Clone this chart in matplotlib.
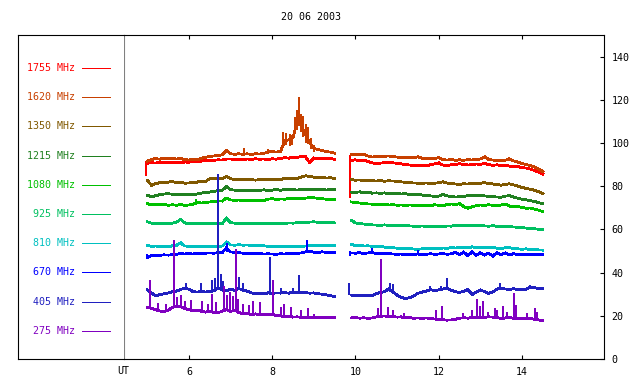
import numpy as np
import matplotlib
matplotlib.use("Agg")
import matplotlib.pyplot as plt

title = "20 06 2003"
freqs = ["1755 MHz", "1620 MHz", "1350 MHz", "1215 MHz", "1080 MHz",
         "925 MHz", "810 MHz", "670 MHz", "405 MHz", "275 MHz"]
colors = ["#ff0000", "#c84000", "#805800", "#208020", "#00c000",
          "#00c060", "#00c0c0", "#0000ff", "#2020c0", "#8000c0"]
xticks = [6, 8, 10, 12, 14]
yticks = [0, 20, 40, 60, 80, 100, 120, 140]

# sampling times (UT hours) of the two observing segments
t_a = np.round(np.arange(5.0, 9.55, 0.1), 1)    # 46 samples
t_b = np.round(np.arange(9.9, 14.55, 0.1), 1)   # 47 samples

s1755_a = [90.6, 90.9, 90.7, 91.0, 90.8, 91.1, 90.9, 91.0, 90.8, 91.2,
           91.1, 91.4, 91.3, 91.6, 91.9, 92.1, 92.0, 92.2, 92.1, 92.6,
           92.6, 92.3, 92.5, 92.4, 92.6, 92.4, 92.7, 92.5, 92.6, 92.4,
           92.7, 92.5, 92.9, 93.2, 93.0, 93.5, 93.3, 93.8, 93.6, 91.0,
           93.1, 92.8, 93.0, 92.7, 92.9, 92.4]
s1755_b = [92.0,
           92.2, 91.8, 92.0, 91.5, 90.8, 90.4, 90.7, 90.9, 91.2, 90.8,
           90.6, 90.3, 90.0, 89.8, 89.7, 89.6, 89.8, 89.5, 89.9, 90.3,
           90.6, 89.8, 89.6, 89.9, 90.1, 90.4, 90.1, 89.8, 90.0, 90.3,
           90.1, 90.6, 90.0, 89.7, 89.9, 89.6, 89.8, 89.3, 88.9, 89.1,
           88.6, 88.4, 87.9, 87.3, 86.5, 85.5]
spk1755 = [(4.98, 84.6, 91.5), (9.87, 74.7, 94.3), (12.0, 89.8, 91.5)]

s1620_a = [91.6, 92.4, 92.8, 92.5, 93.0, 92.7, 92.9, 92.6, 92.8, 92.3,
           92.1, 92.5, 92.3, 92.9, 93.4, 93.8, 94.0, 94.3, 94.5, 96.5,
           95.0, 94.8, 95.0, 94.8, 95.0, 94.7, 95.0, 94.9, 95.2, 95.8,
           96.0, 95.8, 96.0, 101.0, 101.5, 102.5, 110.0, 108.0, 104.0, 100.0,
           97.5, 97.0, 96.5, 96.0, 95.8, 95.3]
s1620_b = [94.6,
           94.8, 94.5, 94.7, 94.0, 93.5, 93.7, 93.6, 93.9, 94.0, 93.7,
           93.5, 93.2, 93.4, 93.1, 93.3, 93.6, 93.0, 92.8, 92.6, 92.9,
           93.2, 92.3, 92.1, 92.3, 92.0, 92.2, 92.0, 92.3, 92.1, 92.4,
           92.6, 93.5, 92.4, 92.1, 92.0, 91.9, 92.1, 92.5, 91.7, 91.2,
           90.4, 90.1, 89.5, 88.9, 88.0, 86.8]
spk1620 = [(7.33, 95.0, 97.9), (7.9, 95.0, 97.0), (8.27, 98.5, 105.0),
           (8.33, 99.0, 104.5), (8.42, 98.5, 104.0), (8.47, 99.0, 103.5),
           (8.55, 104.0, 112.0), (8.6, 106.0, 115.5), (8.65, 108.0, 121.2),
           (8.69, 105.0, 113.5), (8.73, 103.0, 112.5), (8.8, 100.0, 109.0),
           (8.85, 99.5, 107.5), (8.93, 97.0, 102.5), (9.0, 96.0, 99.0),
           (13.1, 92.5, 94.5), (13.7, 91.5, 93.5)]

s1350_a = [82.7, 80.4, 81.2, 81.6, 81.8, 81.9, 82.1, 81.7, 81.9, 81.4,
           81.5, 81.7, 81.9, 82.4, 82.2, 83.5, 83.7, 83.6, 83.4, 84.5,
           83.4, 83.2, 83.3, 83.0, 83.1, 83.0, 82.8, 83.1, 82.9, 83.2,
           83.0, 83.3, 83.1, 83.6, 83.5, 83.8, 83.5, 84.3, 84.8, 84.5,
           84.2, 84.0, 84.2, 83.8, 83.9, 83.6]
s1350_b = [83.0,
           82.8, 82.9, 82.6, 82.8, 82.5, 82.4, 82.6, 82.3, 82.5, 82.4,
           82.3, 82.0, 81.8, 81.6, 81.5, 81.4, 81.3, 81.5, 81.2, 81.4,
           81.6, 82.0, 81.5, 81.2, 81.0, 80.9, 81.1, 81.0, 81.3, 81.2,
           81.4, 81.6, 81.3, 81.0, 80.7, 80.5, 80.8, 81.1, 80.6, 80.0,
           79.4, 79.0, 78.6, 78.1, 77.4, 76.5]
spk1350 = []

s1215_a = [75.8, 75.0, 75.6, 76.1, 76.4, 76.5, 76.3, 76.1, 76.3, 76.0,
           76.2, 75.9, 76.4, 76.8, 77.1, 77.3, 77.6, 78.0, 78.1, 79.8,
           78.4, 78.2, 78.0, 78.0, 78.1, 78.0, 78.2, 78.1, 78.3, 78.0,
           78.2, 78.4, 78.1, 78.5, 78.3, 78.4, 78.2, 78.5, 78.4, 78.6,
           78.5, 78.3, 78.5, 78.2, 78.5, 78.4]
s1215_b = [77.3,
           77.1, 77.4, 77.0, 77.2, 76.8, 76.9, 76.7, 76.9, 76.6, 76.8,
           76.6, 76.4, 76.5, 76.2, 76.1, 76.3, 75.9, 75.6, 75.5, 75.3,
           75.4, 76.3, 75.5, 75.2, 75.0, 75.1, 75.3, 75.6, 75.9, 75.7,
           75.8, 75.5, 75.3, 75.1, 75.0, 74.9, 75.4, 75.6, 75.0, 74.4,
           74.0, 73.7, 73.3, 72.9, 72.4, 71.9]
spk1215 = []

s1080_a = [71.9, 71.4, 71.6, 71.3, 71.5, 71.2, 71.4, 71.2, 71.5, 71.1,
           71.3, 71.6, 72.4, 72.2, 72.4, 72.7, 72.9, 73.2, 73.1, 74.5,
           73.6, 73.5, 73.6, 73.4, 73.5, 73.3, 73.5, 73.2, 73.4, 74.0,
           74.2, 73.9, 74.1, 74.0, 74.3, 74.2, 74.4, 74.1, 74.5, 74.7,
           74.6, 74.4, 74.2, 74.0, 73.9, 73.8]
s1080_b = [72.7,
           72.4, 72.2, 72.0, 71.8, 71.7, 71.6, 71.4, 71.6, 71.3, 71.4,
           71.2, 71.3, 71.1, 71.3, 71.2, 71.2, 71.1, 71.3, 71.0, 71.4,
           71.2, 71.0, 71.5, 71.8, 71.6, 71.9, 70.6, 69.8, 70.5, 71.0,
           71.3, 71.1, 71.4, 71.2, 71.0, 71.3, 71.7, 70.8, 70.5, 70.6,
           70.2, 69.8, 69.9, 69.4, 68.9, 68.2]
spk1080 = [(6.18, 71.8, 74.2)]

s925_a = [63.5, 62.9, 62.8, 62.9, 62.7, 62.8, 62.9, 63.3, 64.6, 63.0,
          62.7, 62.6, 62.7, 62.8, 62.6, 62.7, 62.6, 62.7, 62.6, 65.2,
          63.1, 62.9, 62.8, 62.9, 62.8, 62.7, 62.9, 62.7, 62.8, 62.6,
          62.8, 62.7, 62.9, 62.8, 63.0, 62.9, 63.1, 63.0, 63.2, 63.4,
          63.5, 63.3, 63.4, 63.2, 63.1, 63.0]
s925_b = [64.2,
          63.0, 62.7, 62.5, 62.3, 62.1, 62.0, 61.9, 62.1, 61.8, 62.0,
          61.9, 61.7, 61.8, 61.6, 61.5, 61.4, 61.6, 61.3, 61.5, 61.4,
          61.5, 61.3, 61.6, 61.5, 61.8, 61.9, 61.7, 62.0, 61.8, 61.7,
          61.9, 61.6, 61.5, 61.7, 61.4, 61.3, 61.2, 61.4, 61.1, 61.0,
          60.8, 60.6, 60.5, 60.3, 60.1, 60.0]
spk925 = []

s810_a = [52.5, 52.2, 52.3, 52.1, 52.3, 52.0, 52.4, 52.6, 53.8, 52.3,
          52.2, 52.0, 52.3, 52.1, 52.0, 52.0, 52.2, 52.1, 52.3, 54.2,
          52.8, 52.7, 52.9, 52.7, 52.8, 52.6, 52.7, 52.5, 52.4, 52.2,
          52.0, 52.2, 52.0, 51.9, 52.0, 52.0, 52.1, 52.2, 52.3, 52.4,
          52.4, 52.5, 52.4, 52.5, 52.4, 52.4]
s810_b = [53.1,
          52.5, 52.6, 52.3, 52.4, 52.2, 52.0, 52.1, 51.8, 51.6, 51.5,
          51.3, 51.2, 51.0, 51.1, 50.9, 50.8, 51.0, 51.1, 51.3, 51.2,
          51.1, 51.4, 51.2, 51.6, 51.4, 51.5, 51.8, 51.5, 51.9, 51.6,
          51.8, 51.4, 51.6, 51.7, 51.3, 51.2, 51.5, 51.6, 51.1, 51.0,
          50.8, 51.0, 50.7, 50.6, 50.5, 50.4]
spk810 = []

s670_a = [47.0, 48.0, 48.1, 48.0, 48.2, 48.1, 48.3, 48.5, 48.8, 48.6,
          48.8, 48.6, 48.9, 48.7, 49.0, 49.1, 49.0, 49.2, 49.3, 51.5,
          49.6, 49.3, 49.2, 49.0, 48.9, 48.8, 48.7, 48.8, 48.6, 48.7,
          48.6, 48.5, 48.7, 48.6, 48.8, 48.7, 48.9, 49.1, 49.6, 49.8,
          49.5, 49.3, 49.6, 49.4, 49.3, 49.2]
s670_b = [49.1,
          49.0, 49.2, 48.9, 49.1, 49.3, 48.8, 48.9, 48.7, 48.8, 48.6,
          48.5, 48.6, 48.3, 48.4, 48.5, 48.6, 48.4, 48.5, 48.7, 48.5,
          48.6, 48.8, 48.5, 48.7, 49.4, 48.2, 49.5, 47.8, 49.6, 48.0,
          49.2, 48.1, 49.0, 47.6, 49.3, 48.3, 49.1, 48.2, 48.8, 48.3,
          48.6, 48.3, 48.5, 48.4, 48.3, 48.4]
spk670 = [(5.0, 46.5, 48.5), (6.92, 49.5, 53.5), (8.84, 49.5, 55.0),
          (9.88, 47.5, 50.0), (10.4, 48.8, 51.5), (11.5, 48.5, 50.5)]

s405_a = [31.9, 30.6, 29.3, 29.8, 30.2, 30.6, 31.1, 31.4, 32.2, 32.8,
          32.3, 31.2, 31.0, 31.3, 31.0, 31.2, 31.6, 32.8, 32.0, 31.5,
          32.3, 31.8, 32.6, 31.9, 31.4, 30.6, 30.3, 30.5, 30.2, 30.6,
          30.4, 30.6, 30.5, 30.7, 30.5, 30.9, 30.8, 30.6, 30.7, 30.5,
          30.6, 30.2, 30.0, 29.7, 29.3, 28.9]
s405_b = [29.6,
          29.4, 29.5, 29.3, 29.5, 29.4, 30.2, 30.8, 31.2, 32.5, 31.0,
          29.6, 28.6, 28.0, 28.4, 29.2, 30.4, 31.0, 31.4, 32.2, 31.6,
          32.0, 32.4, 32.8, 31.8, 31.2, 30.8, 31.4, 32.2, 29.8, 31.0,
          32.0, 31.2, 30.4, 31.0, 32.4, 32.8, 32.4, 32.2, 32.5, 32.2,
          32.4, 32.2, 33.4, 33.0, 32.7, 32.6]
spk405 = [(5.94, 32.5, 35.0), (6.3, 31.0, 35.0), (6.55, 31.0, 36.5),
          (6.63, 31.5, 37.5), (6.7, 32.0, 85.5), (6.76, 32.0, 39.5),
          (6.82, 32.0, 36.0), (7.2, 32.0, 38.0), (7.3, 32.0, 35.0),
          (7.95, 30.5, 47.3), (8.2, 30.5, 33.0), (8.5, 30.8, 33.0),
          (8.65, 30.8, 38.8), (9.85, 29.6, 35.0), (10.83, 31.0, 35.0),
          (10.9, 31.0, 34.5), (11.79, 31.5, 34.0), (12.05, 32.0, 33.8),
          (12.19, 32.5, 37.7), (13.47, 32.5, 35.0)]

s275_a = [23.9, 23.5, 22.8, 22.2, 21.9, 22.6, 23.8, 24.5, 24.2, 23.4,
          22.8, 22.3, 22.6, 22.1, 21.7, 22.0, 21.6, 21.4, 22.2, 22.8,
          22.0, 22.6, 21.5, 21.0, 21.2, 20.6, 20.9, 20.5, 20.8, 20.4,
          20.6, 20.2, 19.9, 19.7, 19.8, 19.4, 19.5, 19.3, 19.4, 19.2,
          19.3, 19.4, 19.2, 19.3, 19.2, 19.3]
s275_b = [19.0,
          19.2, 18.9, 19.1, 18.8, 19.0, 19.5, 19.8, 19.9, 19.6, 19.7,
          19.4, 19.5, 19.0, 19.1, 18.9, 19.0, 18.8, 19.0, 18.7, 18.5,
          18.3, 18.2, 18.0, 18.1, 18.4, 18.9, 19.1, 18.9, 19.2, 19.0,
          19.4, 19.3, 19.5, 19.4, 19.1, 18.8, 19.0, 19.2, 18.8, 18.6,
          18.8, 18.5, 18.7, 18.4, 18.1, 17.8]
spk275 = [(5.07, 23.5, 36.8), (5.25, 22.5, 26.0), (5.45, 22.0, 25.5),
          (5.65, 23.5, 55.0), (5.72, 24.0, 28.5), (5.82, 24.0, 29.5),
          (5.9, 23.5, 27.0), (6.05, 22.5, 27.5), (6.32, 22.0, 27.0),
          (6.45, 21.7, 25.5), (6.56, 21.7, 30.0), (6.66, 21.5, 26.5),
          (6.85, 22.0, 34.0), (6.92, 22.0, 29.5), (6.98, 22.0, 31.0),
          (7.05, 22.0, 29.0), (7.12, 22.0, 51.1), (7.18, 21.5, 28.0),
          (7.3, 21.0, 25.5), (7.45, 21.0, 25.0), (7.55, 20.8, 27.0),
          (7.7, 20.6, 26.5), (8.03, 20.5, 36.8), (8.2, 20.0, 24.0),
          (8.28, 19.8, 25.5), (8.45, 19.8, 24.0), (8.7, 19.4, 22.5),
          (8.85, 19.4, 23.5), (9.0, 19.3, 21.0),
          (10.55, 19.5, 23.4), (10.62, 19.8, 46.5), (10.79, 19.6, 23.9),
          (10.91, 19.7, 22.6), (11.17, 19.5, 21.4), (11.94, 18.5, 22.6),
          (12.07, 18.3, 24.4), (12.59, 19.1, 21.1), (12.79, 19.2, 22.6),
          (12.93, 19.0, 27.6), (12.99, 19.0, 24.4), (13.07, 19.3, 26.8),
          (13.19, 19.5, 21.9), (13.35, 19.4, 23.4), (13.39, 19.4, 22.6),
          (13.55, 18.9, 24.4), (13.63, 19.0, 21.9), (13.81, 18.8, 30.4),
          (13.86, 18.7, 25.1), (14.12, 18.5, 21.4), (14.32, 18.4, 23.4),
          (14.36, 18.4, 21.9)]

series = [(s1755_a, s1755_b, spk1755), (s1620_a, s1620_b, spk1620),
          (s1350_a, s1350_b, spk1350), (s1215_a, s1215_b, spk1215),
          (s1080_a, s1080_b, spk1080), (s925_a, s925_b, spk925),
          (s810_a, s810_b, spk810), (s670_a, s670_b, spk670),
          (s405_a, s405_b, spk405), (s275_a, s275_b, spk275)]

# ---------------------------------------------------------------- layout
W, H = 640, 384
FONT = "DejaVu Sans Mono"
FS = 7.2
fig = plt.figure(figsize=(W / 100, H / 100), dpi=100)


def fx(px):
    return px / W


def fy(py):
    return 1 - py / H


ax = fig.add_axes([fx(124), fy(359), fx(604) - fx(124), fy(35) - fy(359)])
lax = fig.add_axes([fx(18), fy(359), fx(124) - fx(18), fy(35) - fy(359)])

LW = 1.3
for (col, (sa, sb, spk)) in zip(colors, series):
    ax.plot(t_a, sa, color=col, lw=LW, antialiased=False, solid_joinstyle="miter")
    ax.plot(t_b, sb, color=col, lw=LW, antialiased=False, solid_joinstyle="miter")
    if spk:
        st = [s[0] for s in spk]
        lo = [s[1] for s in spk]
        hi = [s[2] for s in spk]
        ax.vlines(st, lo, hi, color=col, lw=1.1, antialiased=False)

ax.set_xlim(4.44, 15.97)
ax.set_ylim(0, 150)
ax.set_xticks(xticks)
ax.set_xticklabels([str(v) for v in xticks], fontfamily=FONT, fontsize=FS)
ax.set_yticks(yticks)
ax.set_yticklabels([str(v) for v in yticks], fontfamily=FONT, fontsize=FS)
ax.tick_params(axis="x", which="both", direction="in", top=True, bottom=True,
               length=3, width=0.8, pad=5.5, colors="black")
ax.tick_params(axis="y", which="both", direction="in", left=False, right=True,
               labelleft=False, labelright=True, length=3, width=0.8, pad=5.5)
for side in ["top", "bottom", "right"]:
    ax.spines[side].set_color("black")
    ax.spines[side].set_linewidth(0.8)
ax.spines["left"].set_color("#808080")
ax.spines["left"].set_linewidth(0.8)

# legend panel
lax.set_xlim(18, 124)
lax.set_ylim(359, 35)
lax.set_xticks([])
lax.set_yticks([])
for side in ["top", "bottom", "left"]:
    lax.spines[side].set_color("black")
    lax.spines[side].set_linewidth(0.8)
lax.spines["right"].set_visible(False)
for i, (name, col) in enumerate(zip(freqs, colors)):
    yy = 68 + i * 29.2
    lax.text(75, yy, name, color=col, ha="right", va="center",
             fontfamily=FONT, fontsize=FS)
    lax.plot([82, 110], [yy, yy], color=col, lw=0.72, antialiased=False)

fig.text(fx(123), fy(371), "UT", ha="center", va="center",
         fontfamily=FONT, fontsize=FS)
fig.text(fx(311), fy(17), title, ha="center", va="center",
         fontfamily=FONT, fontsize=FS)

fig.savefig("out.png", dpi=100)
